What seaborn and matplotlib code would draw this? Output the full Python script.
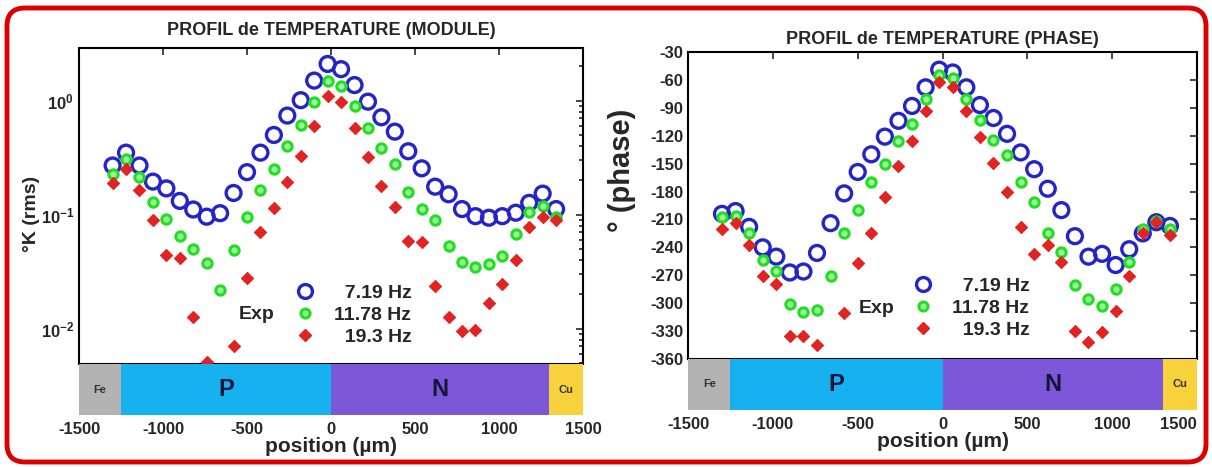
import numpy as np
import pandas as pd
import matplotlib
matplotlib.use("Agg")
import matplotlib.pyplot as plt
import seaborn as sns
from matplotlib.patches import FancyBboxPatch
from matplotlib.transforms import IdentityTransform
from matplotlib.lines import Line2D

# positions de mesure (um)
position = [-1300, -1220, -1140, -1060, -980, -900, -820, -740, -660, -580,
            -500, -420, -340, -260, -180, -100, -20, 60, 140, 220,
            300, 380, 460, 540, 620, 700, 780, 860, 940, 1020,
            1100, 1180, 1260, 1340]

freq_labels = ["  7.19 Hz", "11.78 Hz", "  19.3 Hz"]

# module (K rms)
module_719 = [0.27, 0.35, 0.27, 0.195, 0.17, 0.132, 0.111, 0.096, 0.103, 0.155,
              0.236, 0.35, 0.50, 0.74, 1.01, 1.50, 2.10, 1.89, 1.37, 0.98,
              0.715, 0.535, 0.36, 0.255, 0.176, 0.151, 0.112, 0.097, 0.094, 0.097,
              0.104, 0.127, 0.153, 0.112]
module_1178 = [0.228, 0.31, 0.213, 0.130, 0.092, 0.0645, 0.050, 0.038, 0.0217, 0.049,
               0.096, 0.165, 0.252, 0.404, 0.612, 0.98, 1.48, 1.35, 0.90, 0.576,
               0.382, 0.279, 0.158, 0.112, 0.089, 0.053, 0.0384, 0.0347, 0.0366, 0.043,
               0.067, 0.105, 0.118, 0.095]
module_193 = [0.189, 0.252, 0.165, 0.090, 0.044, 0.042, 0.0127, 0.0051, np.nan, 0.0071,
              0.028, 0.070, 0.114, 0.193, 0.33, 0.60, 1.11, 0.97, 0.58, 0.32,
              0.18, 0.116, 0.059, 0.057, 0.0235, 0.0127, 0.0095, 0.0097, 0.0168, 0.0245,
              0.0397, 0.078, 0.095, 0.089]

# phase (degres)
phase_719 = [-204, -201, -218, -240, -250, -267, -266, -246, -214, -182,
             -159, -140, -121, -104, -88, -68, -49, -52, -68, -87,
             -101, -118, -138, -156, -177, -200, -228, -250, -247, -259,
             -242, -225, -213, -217]
phase_1178 = [-207, -206, -225, -254, -265, -301, -310, -307, -271, -225,
              -200, -170, -150, -126, -107, -81, -55, -58, -81, -103,
              -125, -141, -170, -191, -225, -245, -281, -296, -303, -285,
              -256, -220, -212, -220]
phase_193 = [-220, -214, -237, -271, -279, -335, -335, -345, np.nan, -311,
             -257, -225, -186, -153, -126, -93, -62, -68, -93, -121,
             -149, -181, -218, -247, -238, -256, -330, -342, -331, -308,
             -271, -225, -213, -227]

# zones du composant
zone_names = ["Fe", "P", "N", "Cu"]
zone_start = [-1500, -1250, 0, 1300]
zone_end = [-1250, 0, 1300, 1500]
zone_colors = ["#b3b3b3", "#16b1ee", "#7c58d8", "#f7d23c"]

x_ticks = [-1500, -1000, -500, 0, 500, 1000, 1500]
phase_ticks = [-30, -60, -90, -120, -150, -180, -210, -240, -270, -300, -330, -360]

sns.set_style("white")
plt.rcParams['font.family'] = ['Liberation Sans', 'DejaVu Sans']
plt.rcParams['axes.unicode_minus'] = False

BLUE = "#2424c8"
GREEN = "#22dd22"
RED = "#e02424"

fig = plt.figure(figsize=(12.12, 4.67), dpi=100)

# cadre rouge arrondi
border = FancyBboxPatch((7, 5), 1199, 454, boxstyle="round,pad=0,rounding_size=18",
                        transform=IdentityTransform(), facecolor="none",
                        edgecolor="#dd0000", linewidth=3.5)
fig.patches.append(border)

ax1 = fig.add_axes([0.0652, 0.2206, 0.4158, 0.6767])
bar1 = fig.add_axes([0.0652, 0.1113, 0.4158, 0.1093])
ax2 = fig.add_axes([0.5677, 0.2313, 0.4200, 0.6574])
bar2 = fig.add_axes([0.5677, 0.1221, 0.4200, 0.1092])


def draw_points(ax, values):
    # 3 frequences, 3 styles de marqueur
    sns.scatterplot(x=position, y=values[0], ax=ax, marker="o", s=115,
                    facecolor="none", edgecolor=BLUE, linewidth=2.4, zorder=3)
    sns.scatterplot(x=position, y=values[1], ax=ax, marker="o", s=45,
                    facecolor="#9af59a", edgecolor=GREEN, linewidth=2.2, zorder=4)
    sns.scatterplot(x=position, y=values[2], ax=ax, marker="D", s=38,
                    color=RED, edgecolor=RED, linewidth=0.8, zorder=5)


def legend_exp(ax, x_exp, x_leg, y_leg):
    handles = [
        Line2D([], [], ls="", marker="o", ms=10, mfc="none", mec=BLUE, mew=2.4),
        Line2D([], [], ls="", marker="o", ms=6.5, mfc="#9af59a", mec=GREEN, mew=2.2),
        Line2D([], [], ls="", marker="D", ms=6, mfc=RED, mec=RED),
    ]
    ax.legend(handles, freq_labels, loc="center left", bbox_to_anchor=(x_leg, y_leg),
              frameon=False, borderpad=0, borderaxespad=0, handlelength=1.0,
              handletextpad=1.0, labelspacing=0.22,
              prop={"size": 14, "weight": "bold"})
    ax.text(x_exp, y_leg, "Exp", transform=ax.transAxes, ha="center", va="center",
            fontsize=14, fontweight="bold")


def draw_bar(bax, shift_last=False):
    for name, a, b, col in zip(zone_names, zone_start, zone_end, zone_colors):
        bax.axvspan(a, b, color=col, lw=0)
        big = name in ("P", "N")
        bax.text((a + b) / 2, 0.5, name, ha="center", va="center",
                 fontsize=17 if big else 8, fontweight="bold",
                 color="#14143c" if big else "#333333")
    bax.set_xlim(-1500, 1500)
    bax.set_ylim(0, 1)
    bax.set_yticks([])
    bax.set_xticks(x_ticks)
    bax.set_xticklabels([str(t) for t in x_ticks])
    bax.tick_params(axis="x", length=0, pad=5, labelsize=12)
    labels = bax.get_xticklabels()
    for lab in labels:
        lab.set_fontweight("bold")
    if shift_last:
        labels[-1].set_horizontalalignment("right")
    for sp in bax.spines.values():
        sp.set_visible(False)
    bax.set_xlabel("position (µm)", fontsize=15, fontweight="bold", labelpad=0)


def style_main(ax):
    ax.set_xlim(-1500, 1500)
    ax.set_xticks(x_ticks)
    ax.tick_params(axis="both", which="both", direction="in", top=True, right=True,
                   labelbottom=False, labelsize=12, width=1.2)
    ax.tick_params(which="major", length=5)
    ax.tick_params(which="minor", length=3)
    for sp in ax.spines.values():
        sp.set_linewidth(1.5)
        sp.set_color("black")
    for lab in ax.get_yticklabels():
        lab.set_fontweight("bold")


# --- module ---
draw_points(ax1, [module_719, module_1178, module_193])
ax1.set_yscale("log")
ax1.set_ylim(0.0049, 2.9)
style_main(ax1)
ax1.set_title("PROFIL de TEMPERATURE (MODULE)", fontsize=13, fontweight="bold", pad=9)
ax1.set_ylabel("°K (rms)", fontsize=14, fontweight="bold")
ax1.yaxis.set_label_coords(-0.078, 0.475)
legend_exp(ax1, 0.353, 0.429, 0.155)
draw_bar(bar1)

# --- phase ---
draw_points(ax2, [phase_719, phase_1178, phase_193])
ax2.set_ylim(-360, -30)
ax2.set_yticks(phase_ticks)
style_main(ax2)
ax2.set_title("PROFIL de TEMPERATURE (PHASE)", fontsize=13, fontweight="bold", pad=6)
ax2.set_ylabel("° (phase)", fontsize=21, fontweight="bold",
               family=['Liberation Sans Narrow', 'Liberation Sans', 'DejaVu Sans'])
ax2.yaxis.set_label_coords(-0.103, 0.615)
legend_exp(ax2, 0.371, 0.442, 0.166)
draw_bar(bar2, shift_last=True)

fig.savefig("out.png", dpi=100)
